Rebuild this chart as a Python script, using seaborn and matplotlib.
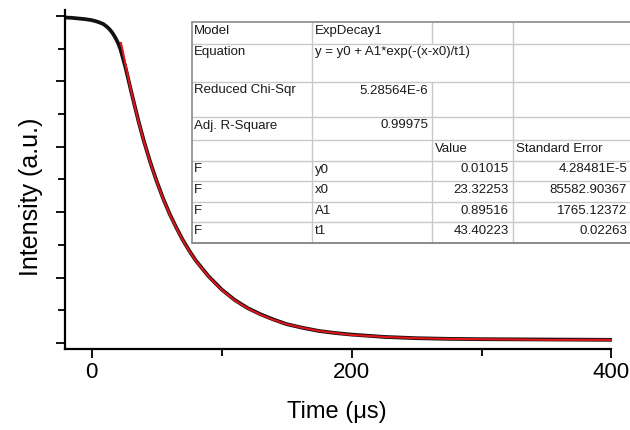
import numpy as np
import pandas as pd
import matplotlib
matplotlib.use("Agg")
import matplotlib.pyplot as plt
import seaborn as sns
from matplotlib.ticker import MultipleLocator

# ---------------- data ----------------
data_x = [-20, -15, -10, -5, 0, 3, 6, 9, 12, 14, 16, 18, 20, 22, 24, 26, 28, 30,
          33, 36, 40, 45, 50, 55, 60, 65, 70, 75, 80, 90, 100, 110, 120, 130,
          140, 150, 162, 175, 187, 200, 225, 250, 275, 300, 350, 400]
data_y = [0.995, 0.994, 0.992, 0.990, 0.987, 0.984, 0.980, 0.975, 0.966, 0.958,
          0.948, 0.935, 0.920, 0.900, 0.872, 0.843, 0.810, 0.776, 0.727, 0.679,
          0.620, 0.554, 0.495, 0.442, 0.395, 0.354, 0.316, 0.283, 0.253, 0.204,
          0.164, 0.132, 0.107, 0.088, 0.072, 0.058, 0.047, 0.037, 0.031, 0.026,
          0.019, 0.015, 0.013, 0.012, 0.011, 0.010]

fit_x = [22.5, 24, 26, 28, 30, 33, 36, 40, 45, 50, 55, 60, 65, 70, 75, 80, 90,
         100, 110, 120, 130, 140, 150, 162, 175, 187, 200, 225, 250, 275, 300,
         350, 400]
fit_y = [0.918, 0.891, 0.851, 0.814, 0.777, 0.726, 0.678, 0.619, 0.553, 0.494,
         0.441, 0.394, 0.353, 0.315, 0.282, 0.252, 0.203, 0.163, 0.131, 0.106,
         0.087, 0.071, 0.058, 0.047, 0.037, 0.031, 0.025, 0.019, 0.015, 0.013,
         0.012, 0.010, 0.010]

x_label = "Time (\u03bcs)"
y_label = "Intensity (a.u.)"

# table contents
tbl_col0 = ["Model", "Equation", "Reduced Chi-Sqr", "Adj. R-Square", "", "F", "F", "F", "F"]
tbl_col1 = ["ExpDecay1", "y = y0 + A1*exp(-(x-x0)/t1)", "5.28564E-6", "0.99975", "",
            "y0", "x0", "A1", "t1"]
tbl_col2 = ["", "", "", "", "Value", "0.01015", "23.32253", "0.89516", "43.40223"]
tbl_col3 = ["", "", "", "", "Standard Error", "4.28481E-5", "85582.90367",
            "1765.12372", "0.02263"]

# ---------------- styling ----------------
sns.set_theme(style="white")
plt.rcParams["font.family"] = ["Liberation Sans", "DejaVu Sans"]

fig = plt.figure(figsize=(6.3, 4.3), dpi=100)
fig.patch.set_facecolor("white")
ax = fig.add_axes([65 / 630, 1 - 349 / 430, (611.5 - 65) / 630, (349 - 10) / 430])
ax.set_facecolor("white")

df_data = pd.DataFrame({"x": data_x, "y": data_y})
df_fit = pd.DataFrame({"x": fit_x, "y": fit_y})
sns.lineplot(data=df_data, x="x", y="y", ax=ax, color="#111111", linewidth=2.7,
             sort=False, solid_capstyle="round", solid_joinstyle="round")
sns.lineplot(data=df_fit, x="x", y="y", ax=ax, color="#e0141a", linewidth=1.5,
             sort=False, solid_joinstyle="round")

ax.set_xlim(-20.5, 400)
ax.set_ylim(-0.018, 1.018)
ax.xaxis.set_major_locator(MultipleLocator(200))
ax.xaxis.set_minor_locator(MultipleLocator(100))
ax.yaxis.set_major_locator(MultipleLocator(0.2))
ax.yaxis.set_minor_locator(MultipleLocator(0.1))
ax.set_yticklabels([])
ax.tick_params(axis="both", which="major", direction="out", length=6.3, width=1.3,
               color="black", labelsize=16, pad=3.0, bottom=True, left=True)
ax.tick_params(axis="both", which="minor", direction="out", length=5, width=1.3,
               color="black", bottom=True, left=True)
for t in ax.get_xticklabels():
    t.set_color("black")
for s in ["top", "right"]:
    ax.spines[s].set_visible(False)
for s in ["left", "bottom"]:
    ax.spines[s].set_color("black")
    ax.spines[s].set_linewidth(1.6)

ax.set_xlabel(x_label, fontsize=17, color="black")
ax.set_ylabel(y_label, fontsize=18, color="black")
ax.xaxis.set_label_coords(0.497, -0.153)
ax.yaxis.set_label_coords(-0.040, 0.45)

# ---------------- table overlay (pixel coordinates) ----------------
ov = fig.add_axes([0, 0, 1, 1])
ov.set_xlim(0, 630)
ov.set_ylim(430, 0)
ov.axis("off")
ov.patch.set_alpha(0)

cols = [191.7, 311.7, 432.0, 513.0, 640.0]
rows = [22.0, 43.5, 81.5, 116.5, 140.0, 160.5, 181.0, 201.5, 222.0, 242.5]
grid_c = "#c9c9c9"
border_c = "#8a8a8a"

ov.add_patch(plt.Rectangle((cols[0], rows[0]), cols[-1] - cols[0], rows[-1] - rows[0],
                           facecolor="white", edgecolor="none", zorder=1))
for r in rows[1:-1]:
    ov.plot([cols[0], cols[-1]], [r, r], color=grid_c, lw=1.0, zorder=2)
ov.plot([cols[1], cols[1]], [rows[0], rows[-1]], color=grid_c, lw=1.0, zorder=2)
ov.plot([cols[3], cols[3]], [rows[0], rows[-1]], color=grid_c, lw=1.0, zorder=2)
ov.plot([cols[2], cols[2]], [rows[0], rows[1]], color=grid_c, lw=1.0, zorder=2)
ov.plot([cols[2], cols[2]], [rows[2], rows[-1]], color=grid_c, lw=1.0, zorder=2)
# outer border
ov.plot([cols[0], cols[-1]], [rows[0], rows[0]], color=border_c, lw=1.2, zorder=3)
ov.plot([cols[0], cols[-1]], [rows[-1], rows[-1]], color=border_c, lw=1.4, zorder=3)
ov.plot([cols[0], cols[0]], [rows[0], rows[-1]], color=border_c, lw=1.2, zorder=3)

fs = 9.5
tc = "#1a1a1a"
for i in range(len(tbl_col0)):
    yc = rows[i] + 9.0
    if tbl_col0[i]:
        ov.text(cols[0] + 2.5, yc, tbl_col0[i], fontsize=fs, color=tc, va="center",
                ha="left", zorder=4)
    if tbl_col1[i]:
        if i in (2, 3):
            ov.text(cols[2] - 4, yc, tbl_col1[i], fontsize=fs, color=tc, va="center",
                    ha="right", zorder=4)
        else:
            ov.text(cols[1] + 3, yc, tbl_col1[i], fontsize=fs, color=tc, va="center",
                    ha="left", zorder=4)
    if tbl_col2[i]:
        if i == 4:
            ov.text(cols[2] + 3, yc, tbl_col2[i], fontsize=fs, color=tc, va="center",
                    ha="left", zorder=4)
        else:
            ov.text(cols[3] - 4.5, yc, tbl_col2[i], fontsize=fs, color=tc, va="center",
                    ha="right", zorder=4)
    if tbl_col3[i]:
        if i == 4:
            ov.text(cols[3] + 3, yc, tbl_col3[i], fontsize=fs, color=tc, va="center",
                    ha="left", zorder=4)
        else:
            ov.text(627, yc, tbl_col3[i], fontsize=fs, color=tc, va="center",
                    ha="right", zorder=4)

fig.savefig("out.png", dpi=100, facecolor="white")
